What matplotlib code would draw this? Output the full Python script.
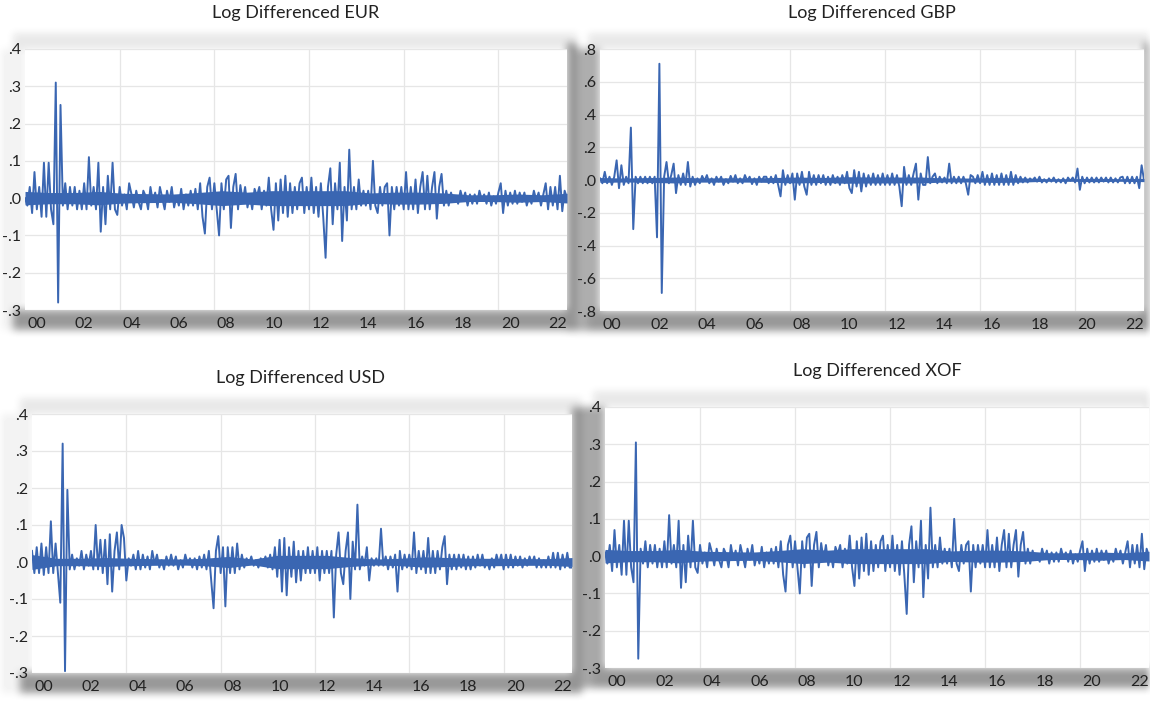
import numpy as np
import matplotlib
matplotlib.use("Agg")
import matplotlib.pyplot as plt
from matplotlib.ticker import FixedLocator, NullFormatter

plt.rcParams["font.family"] = ["Lato", "DejaVu Sans"]

# ten readings per year, 2000.0 .. 2022.9
eur_values = [
    0.00, -0.02, 0.03, -0.04, 0.07, -0.03, 0.03, -0.05, 0.095, -0.05,
    0.095, -0.03, -0.07, 0.31, -0.28, 0.25, -0.02, 0.04, -0.03, 0.03,
    -0.02, 0.03, -0.03, 0.02, -0.03, 0.04, -0.03, 0.11, -0.02, 0.03,
    -0.03, 0.095, -0.09, 0.03, -0.07, 0.06, -0.03, 0.095, -0.03, -0.045,
    0.03, -0.02, 0.01, -0.03, 0.04, 0.01, -0.025, 0.02, -0.01, -0.03,
    0.02, 0.005, -0.03, 0.03, -0.01, 0.015, -0.025, 0.03, 0.00, -0.03,
    0.02, -0.01, 0.03, -0.025, 0.005, -0.02, 0.025, -0.03, 0.01, -0.02,
    0.02, -0.02, 0.025, -0.03, 0.04, -0.05, -0.095, 0.03, 0.055, -0.03,
    0.04, -0.03, -0.10, 0.04, -0.03, 0.05, 0.06, -0.08, 0.03, 0.065,
    -0.03, 0.035, -0.01, 0.03, -0.025, 0.01, -0.03, 0.025, 0.005, 0.03,
    -0.03, 0.02, -0.02, 0.055, -0.03, -0.085, 0.04, -0.06, 0.05, -0.04,
    0.06, -0.05, 0.04, -0.04, 0.03, -0.03, 0.04, 0.055, -0.04, 0.03,
    -0.03, 0.055, -0.04, 0.03, -0.05, 0.04, -0.05, -0.16, 0.03, 0.08,
    -0.07, 0.04, -0.03, 0.095, -0.115, 0.03, -0.06, 0.13, -0.03, 0.03,
    -0.03, 0.05, -0.02, 0.02, -0.02, 0.02, -0.03, 0.10, -0.02, -0.04,
    0.03, -0.02, 0.03, 0.04, -0.10, 0.03, -0.03, 0.03, -0.02, 0.03,
    -0.03, 0.07, -0.03, 0.03, -0.03, 0.05, -0.04, 0.03, 0.07, -0.03,
    0.06, -0.03, 0.03, 0.07, -0.055, 0.03, 0.065, -0.02, 0.02, -0.02,
    0.015, -0.01, 0.005, -0.015, 0.02, -0.005, 0.015, -0.02, 0.01, -0.015,
    0.01, -0.015, 0.02, -0.005, 0.01, -0.015, 0.015, -0.02, 0.005, -0.015,
    0.015, 0.04, -0.04, 0.02, -0.02, 0.015, -0.015, 0.02, -0.015, 0.015,
    -0.01, 0.015, -0.02, 0.005, -0.015, 0.02, -0.005, 0.015, -0.02, 0.01,
    0.04, -0.03, 0.03, -0.02, 0.03, -0.03, 0.06, -0.035, 0.02, 0.00,
]

gbp_values = [
    0.01, -0.02, 0.05, -0.02, 0.02, -0.03, 0.02, 0.12, -0.05, 0.09,
    -0.03, 0.02, -0.02, 0.32, -0.30, 0.02, -0.02, 0.02, -0.02, 0.02,
    -0.02, 0.02, -0.02, 0.02, -0.35, 0.71, -0.69, 0.02, 0.11, -0.02,
    0.03, 0.10, -0.08, 0.03, -0.03, 0.04, -0.03, 0.11, -0.04, 0.02,
    -0.03, 0.01, -0.02, 0.025, -0.005, 0.03, -0.02, 0.01, -0.03, 0.02,
    -0.01, 0.02, -0.03, 0.005, -0.02, 0.025, -0.01, 0.03, -0.02, 0.01,
    -0.02, 0.03, -0.005, 0.02, -0.025, 0.01, -0.03, 0.02, -0.01, 0.02,
    0.02, -0.02, 0.02, -0.02, 0.03, -0.03, -0.10, 0.06, -0.03, 0.03,
    -0.02, 0.04, -0.12, 0.04, -0.03, 0.05, -0.04, -0.09, 0.05, -0.03,
    0.03, -0.03, 0.03, -0.02, 0.03, -0.03, 0.02, -0.03, 0.03, -0.02,
    0.02, -0.03, 0.03, -0.02, 0.05, -0.05, -0.08, 0.06, -0.04, 0.05,
    -0.07, 0.04, -0.04, 0.03, -0.03, 0.04, -0.03, 0.03, -0.03, 0.04,
    -0.03, 0.03, -0.03, 0.04, -0.03, 0.03, -0.04, -0.16, 0.08, -0.03,
    0.03, -0.03, 0.04, 0.10, -0.12, 0.04, -0.03, -0.03, 0.14, -0.02,
    0.02, 0.04, -0.02, 0.02, -0.015, 0.015, -0.02, 0.10, -0.02, 0.02,
    -0.02, 0.02, -0.02, 0.02, -0.02, -0.09, 0.03, 0.02, -0.02, 0.03,
    -0.02, 0.05, -0.03, 0.03, -0.03, 0.04, -0.03, 0.03, -0.03, 0.04,
    -0.03, 0.03, -0.03, 0.05, -0.03, 0.03, -0.02, 0.02, -0.015, 0.015,
    -0.015, 0.01, -0.005, 0.015, -0.01, 0.02, -0.015, 0.005, -0.015, 0.01,
    -0.01, 0.015, -0.015, 0.005, -0.015, 0.01, -0.02, 0.015, -0.005, 0.015,
    -0.015, 0.07, -0.06, 0.02, -0.02, 0.015, -0.015, 0.015, -0.015, 0.015,
    -0.015, 0.015, -0.01, 0.015, -0.015, 0.015, -0.015, 0.01, -0.015, 0.015,
    0.02, -0.02, 0.02, -0.02, 0.02, -0.02, 0.02, -0.05, 0.09, 0.00,
]

usd_values = [
    0.03, -0.03, 0.04, -0.03, 0.05, -0.035, 0.04, -0.03, 0.11, -0.03,
    0.05, -0.03, -0.11, 0.32, -0.295, 0.195, -0.02, 0.02, -0.02, 0.01,
    -0.01, 0.03, -0.02, 0.02, -0.01, 0.03, -0.02, 0.10, -0.02, 0.06,
    -0.03, 0.06, -0.06, 0.075, -0.08, 0.03, 0.08, -0.02, 0.10, 0.065,
    -0.05, 0.01, -0.01, 0.02, -0.02, 0.03, -0.02, 0.02, -0.015, 0.015,
    -0.02, 0.03, -0.005, 0.02, -0.015, 0.005, -0.02, 0.015, -0.01, 0.02,
    -0.01, 0.015, -0.02, 0.005, -0.015, 0.02, -0.005, 0.01, -0.015, 0.01,
    -0.02, 0.015, -0.015, 0.02, -0.02, 0.03, -0.05, -0.125, 0.03, 0.07,
    -0.03, 0.04, -0.12, 0.04, -0.03, 0.04, -0.03, 0.05, -0.02, 0.02,
    -0.015, 0.01, -0.005, 0.015, -0.01, 0.005, -0.015, 0.01, -0.005, 0.015,
    -0.015, 0.02, -0.02, 0.04, -0.04, 0.06, -0.08, 0.065, -0.09, 0.04,
    -0.04, 0.055, -0.055, 0.03, -0.05, 0.03, -0.03, 0.04, -0.03, 0.03,
    -0.03, 0.04, -0.05, 0.03, -0.03, 0.03, -0.03, 0.03, -0.15, 0.02,
    0.08, -0.03, -0.06, 0.03, 0.08, -0.10, 0.055, -0.02, 0.155, -0.02,
    0.015, -0.01, 0.04, -0.05, 0.01, -0.01, 0.01, -0.01, 0.09, -0.01,
    0.015, -0.02, 0.015, -0.015, 0.02, -0.08, 0.03, -0.02, 0.02, -0.015,
    0.02, -0.02, 0.08, -0.03, 0.03, -0.02, 0.03, -0.03, 0.065, -0.03,
    0.03, -0.03, 0.03, -0.02, 0.04, 0.07, -0.06, 0.02, -0.02, 0.02,
    -0.02, 0.02, -0.015, 0.02, -0.02, 0.015, -0.02, 0.015, -0.015, 0.02,
    -0.01, 0.02, -0.015, 0.005, -0.02, 0.01, -0.015, 0.02, -0.005, 0.02,
    -0.02, 0.02, -0.015, 0.02, -0.015, 0.015, -0.01, 0.015, -0.015, 0.01,
    -0.01, 0.015, -0.005, 0.015, -0.015, 0.01, -0.015, 0.005, -0.015, 0.015,
    -0.015, 0.025, -0.015, 0.025, -0.02, 0.02, -0.015, 0.025, -0.015, -0.015,
]

xof_values = [
    0.01, -0.02, 0.03, -0.04, 0.07, -0.03, 0.03, -0.05, 0.095, -0.05,
    0.095, -0.03, -0.07, 0.305, -0.275, 0.02, -0.02, 0.04, -0.03, 0.03,
    -0.02, 0.03, -0.03, 0.02, -0.03, 0.04, -0.03, 0.11, -0.02, 0.03,
    -0.03, 0.095, -0.085, 0.03, -0.07, 0.055, -0.03, 0.095, -0.03, -0.045,
    0.03, -0.02, 0.01, -0.03, 0.035, 0.01, -0.025, 0.02, -0.01, -0.03,
    0.02, 0.005, -0.03, 0.03, -0.01, 0.015, -0.025, 0.03, 0.00, -0.03,
    0.02, -0.01, 0.03, -0.025, 0.005, -0.02, 0.025, -0.03, 0.01, -0.02,
    0.02, -0.02, 0.025, -0.03, 0.04, -0.05, -0.095, 0.03, 0.055, -0.03,
    0.04, -0.03, -0.10, 0.04, -0.03, 0.05, 0.06, -0.08, 0.03, 0.065,
    -0.03, 0.035, -0.01, 0.03, -0.025, 0.01, -0.03, 0.025, 0.005, 0.03,
    -0.03, 0.02, -0.02, 0.055, -0.03, -0.08, 0.04, -0.06, 0.05, -0.04,
    0.06, -0.05, 0.04, -0.04, 0.03, -0.03, 0.04, 0.055, -0.04, 0.03,
    -0.03, 0.055, -0.04, 0.03, -0.05, 0.04, -0.05, -0.155, 0.03, 0.08,
    -0.07, 0.04, -0.03, 0.095, -0.11, 0.03, -0.06, 0.13, -0.03, 0.03,
    -0.03, 0.05, -0.02, 0.02, -0.02, 0.02, -0.03, 0.10, -0.02, -0.04,
    0.03, -0.02, 0.03, 0.04, -0.095, 0.03, -0.03, 0.03, -0.02, 0.03,
    -0.03, 0.07, -0.03, 0.03, -0.03, 0.05, -0.04, 0.03, 0.07, -0.03,
    0.06, -0.03, 0.03, 0.07, -0.055, 0.03, 0.065, -0.02, 0.02, -0.02,
    0.015, -0.01, 0.005, -0.015, 0.02, -0.005, 0.015, -0.02, 0.01, -0.015,
    0.01, -0.015, 0.02, -0.005, 0.01, -0.015, 0.015, -0.02, 0.005, -0.015,
    0.015, 0.04, -0.04, 0.02, -0.02, 0.015, -0.015, 0.02, -0.015, 0.015,
    -0.01, 0.015, -0.02, 0.005, -0.015, 0.02, -0.005, 0.015, -0.02, 0.01,
    0.04, -0.03, 0.03, -0.02, 0.03, -0.03, 0.06, -0.035, 0.02, 0.00,
]

# half-width of the solid core of the daily band, one reading per year 2000..2022
eur_core = [0.018, 0.015, 0.015, 0.018, 0.013, 0.012, 0.011, 0.015, 0.02, 0.016, 0.02, 0.02,
            0.02, 0.02, 0.014, 0.016, 0.016, 0.014, 0.009, 0.009, 0.011, 0.009, 0.013]
gbp_core = [0.015, 0.012, 0.015, 0.018, 0.013, 0.013, 0.013, 0.015, 0.018, 0.015, 0.02, 0.018,
            0.018, 0.018, 0.012, 0.012, 0.015, 0.013, 0.008, 0.008, 0.01, 0.008, 0.01]
usd_core = [0.02, 0.01, 0.01, 0.012, 0.01, 0.009, 0.008, 0.01, 0.015, 0.008, 0.018, 0.018,
            0.018, 0.012, 0.008, 0.01, 0.014, 0.012, 0.01, 0.01, 0.009, 0.009, 0.012]
xof_core = [0.018, 0.015, 0.015, 0.018, 0.013, 0.012, 0.011, 0.015, 0.02, 0.016, 0.02, 0.02,
            0.02, 0.02, 0.014, 0.016, 0.016, 0.014, 0.009, 0.009, 0.011, 0.009, 0.013]

ticks_small = [-0.3, -0.2, -0.1, 0.0, 0.1, 0.2, 0.3, 0.4]
ticks_gbp = [-0.8, -0.6, -0.4, -0.2, 0.0, 0.2, 0.4, 0.6, 0.8]
year_labels = list(range(2000, 2023, 2))
grid_years = [2004, 2008, 2012, 2016, 2020]

years = 2000 + np.arange(len(eur_values)) / 10
core_x = np.linspace(2000, 2022.9, len(eur_core))

W, H = 1150, 702
LINE = "#3a66b2"

# (title, values, core, yticks, plot box in px: left, top, right, bottom, title centre, left-column shade)
panels = [
    ("Log Differenced EUR", eur_values, eur_core, ticks_small, (25, 49, 567, 310), (296, 13), 0.05),
    ("Log Differenced GBP", gbp_values, gbp_core, ticks_gbp, (600, 49, 1144, 311), (872, 13), 0.32),
    ("Log Differenced USD", usd_values, usd_core, ticks_small, (32, 414, 572, 673), (301, 378), 0.05),
    ("Log Differenced XOF", xof_values, xof_core, ticks_small, (605, 407, 1149, 668), (877, 371), 0.34),
]

fig = plt.figure(figsize=(W / 100, H / 100), dpi=100)

# soft grey frame behind each pasted panel
shade = np.zeros((H, W))


def darken(x0, y0, x1, y1, d):
    x0, y0 = max(x0, 0), max(y0, 0)
    shade[y0:y1, x0:x1] = np.maximum(shade[y0:y1, x0:x1], d)


for _, _, _, _, (l, t, r, b), _, left_d in panels:
    darken(l - 12, t - 16, r + 10, t, 0.09)
    darken(l - 12, b, r + 10, b + 20, 0.40)
    darken(r, t - 6, r + 10, b + 20, 0.42)
    darken(l - 33, t, l, b + 20, left_d)

ker = np.ones(9) / 9
for _ in range(2):
    shade = np.apply_along_axis(lambda row: np.convolve(row, ker, mode="same"), 1, shade)
    shade = np.apply_along_axis(lambda col: np.convolve(col, ker, mode="same"), 0, shade)

bg = fig.add_axes([0, 0, 1, 1])
bg.imshow(1 - shade, cmap="gray", vmin=0, vmax=1, extent=(0, W, H, 0), aspect="auto")
bg.axis("off")
bg.set_zorder(0)


def fmt(v):
    s = f"{v:.1f}"
    return s.replace("0.", ".")


for title, values, core, yticks, (l, t, r, b), (tx, ty), _ in panels:
    ax = fig.add_axes([l / W, 1 - b / H, (r - l) / W, (b - t) / H])
    ax.set_zorder(1)
    ax.set_facecolor("white")
    core = np.array(core)
    ax.fill_between(core_x, -core, core, color=LINE, lw=0)
    ax.plot(years, values, color=LINE, lw=1.4)
    ax.set_xlim(2000, 2022.9)
    ax.set_ylim(yticks[0], yticks[-1])

    ax.set_yticks(yticks)
    ax.set_yticklabels([fmt(v) for v in yticks])
    ax.set_xticks([y + 0.5 for y in year_labels])
    ax.set_xticklabels([f"{y % 100:02d}" for y in year_labels])
    ax.xaxis.set_minor_locator(FixedLocator(grid_years))
    ax.xaxis.set_minor_formatter(NullFormatter())

    ax.grid(axis="y", which="major", color="#e6e6e6", lw=0.9)
    ax.grid(axis="x", which="minor", color="#e6e6e6", lw=0.9)
    ax.set_axisbelow(True)
    ax.tick_params(axis="both", which="both", length=0, labelsize=11.5, colors="#222222")
    ax.tick_params(axis="x", pad=5)
    ax.tick_params(axis="y", pad=3)
    for s in ax.spines.values():
        s.set_visible(False)

    fig.text(tx / W, 1 - ty / H, title, ha="center", va="center", fontsize=13, color="#222222")

fig.savefig("out.png", dpi=100)
